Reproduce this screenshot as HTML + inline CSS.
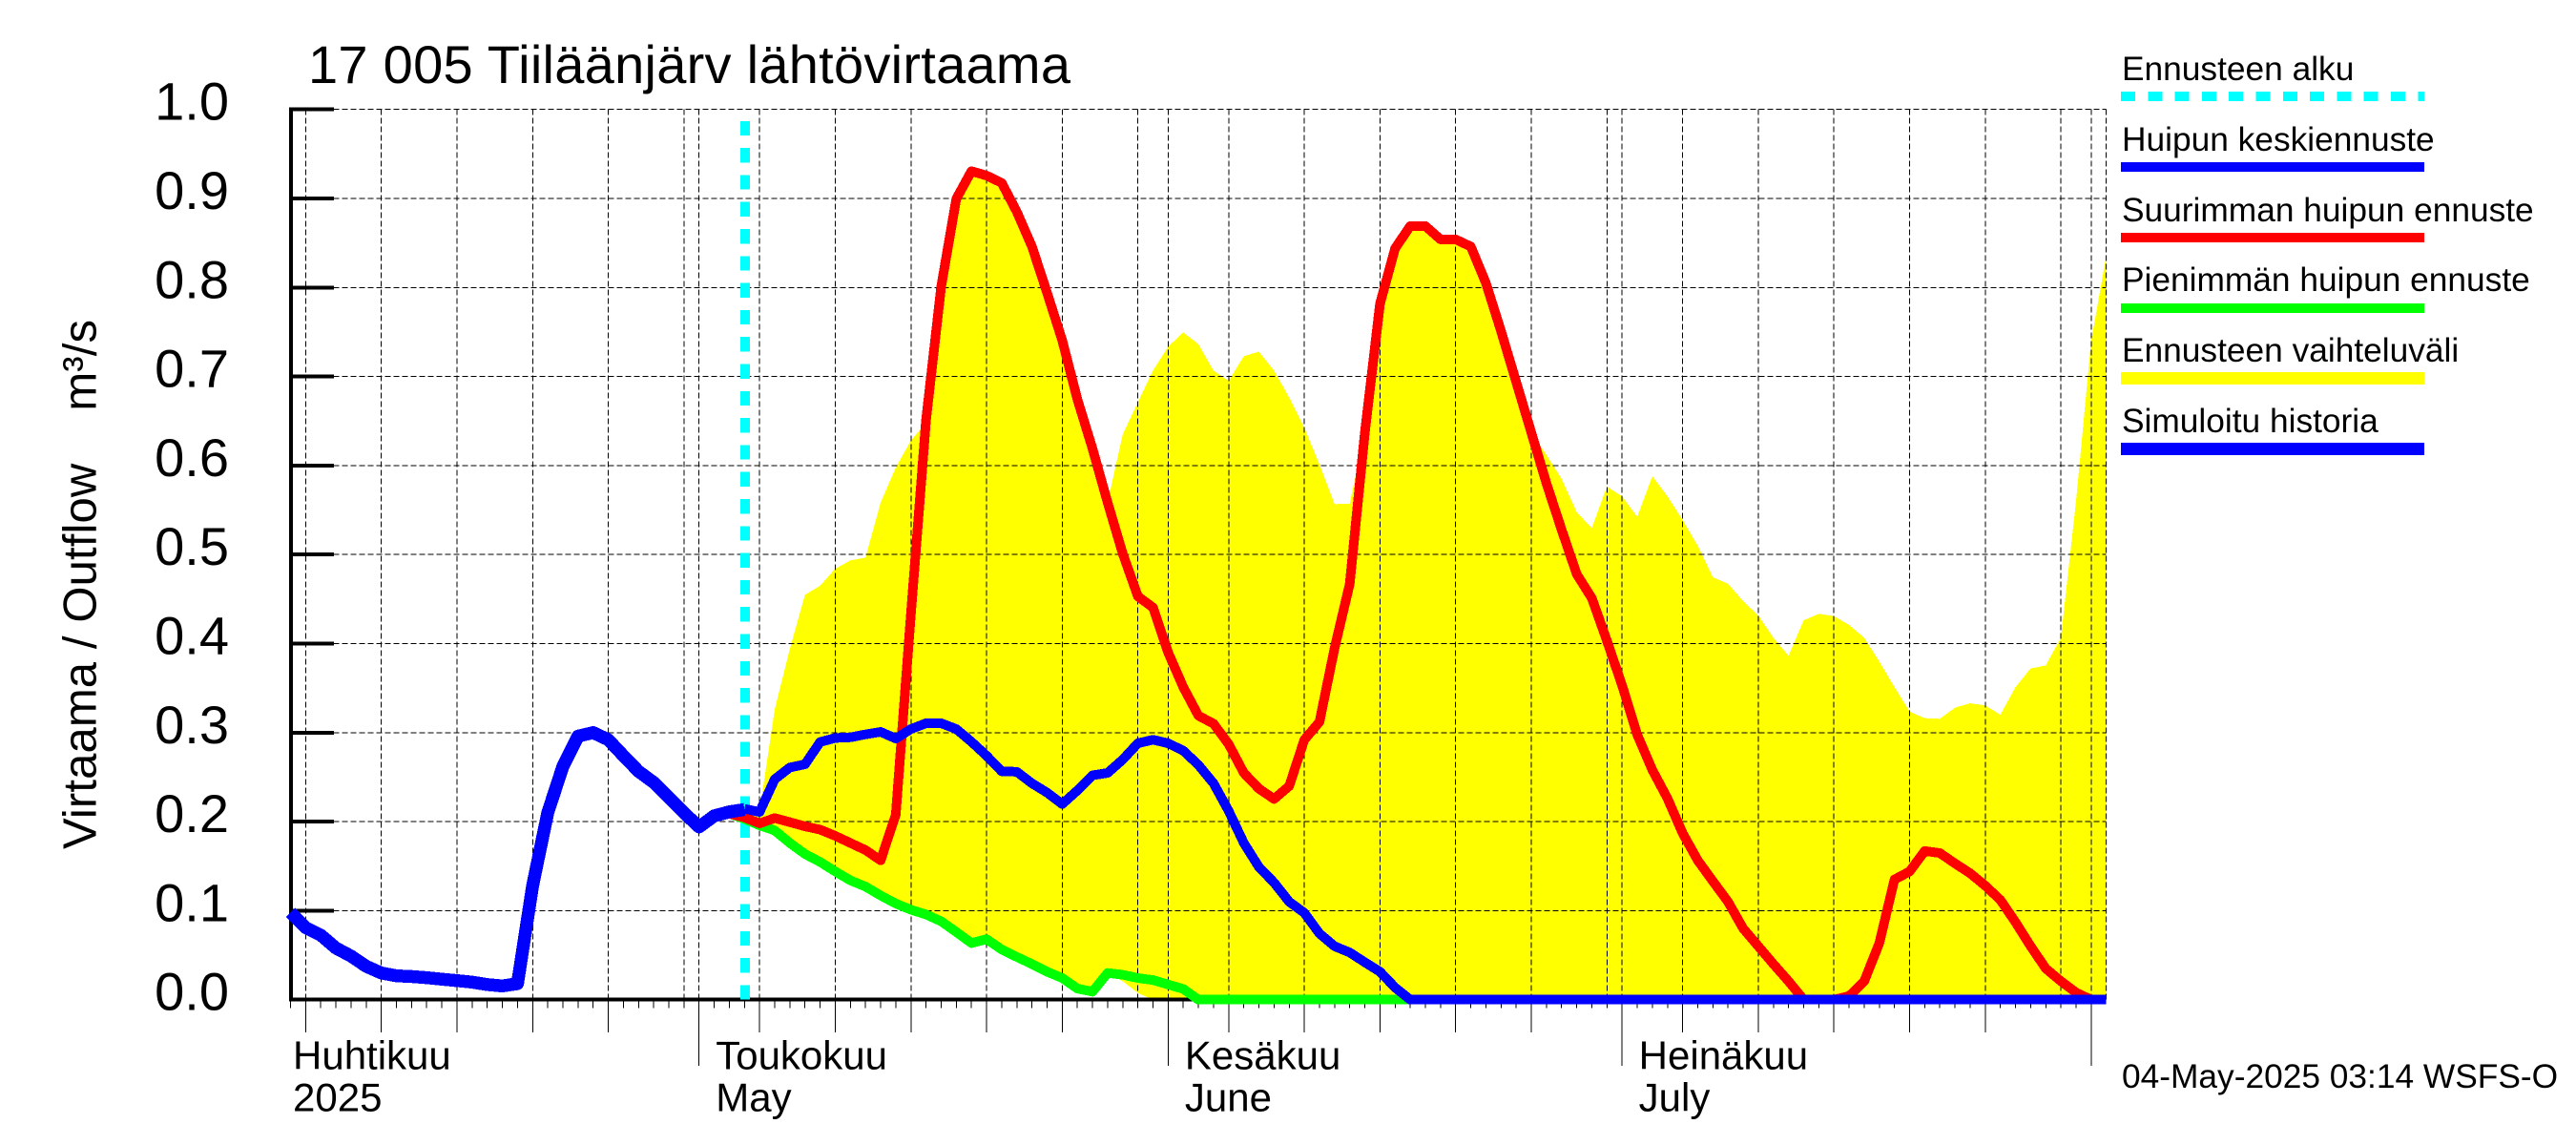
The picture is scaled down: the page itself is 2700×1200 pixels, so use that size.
<!DOCTYPE html>
<html lang="fi">
<head>
<meta charset="utf-8">
<title>17 005 Tiiläänjärv lähtövirtaama</title>
<style>
  html, body { margin: 0; padding: 0; background: #fff; }
  svg { display: block; font-family: "Liberation Sans", Arial, sans-serif; }
  text { fill: #000; }
</style>
</head>
<body>
<svg id="chart" xmlns="http://www.w3.org/2000/svg" width="2700" height="1200" viewBox="0 0 2700 1200" shape-rendering="crispEdges">
  <rect x="0" y="0" width="2700" height="1200" fill="#ffffff"/>
  <text x="323" y="87" font-size="56" textLength="799" lengthAdjust="spacing">17 005 Tiiläänjärv lähtövirtaama</text>
  <text transform="translate(100.5,890) rotate(-90)" font-size="49" textLength="555" lengthAdjust="spacing" xml:space="preserve">Virtaama / Outflow    m³/s</text>
  <g id="range-layer"></g>
  <g id="grid-layer"></g>
  <g id="axis-layer"></g>
  <g id="series-layer"></g>

  <g>
    <g>
      <text x="2224" y="84" font-size="35.3">Ennusteen alku</text>
      <line x1="2223" y1="101" x2="2541" y2="101" stroke="#00ffff" stroke-width="10" stroke-dasharray="15 13.3"/>
    </g>
    <g>
      <text x="2224" y="158" font-size="35.3">Huipun keskiennuste</text>
      <line x1="2223" y1="175" x2="2541" y2="175" stroke="#0000ff" stroke-width="10"/>
    </g>
    <g>
      <text x="2224" y="232" font-size="35.3">Suurimman huipun ennuste</text>
      <line x1="2223" y1="249" x2="2541" y2="249" stroke="#ff0000" stroke-width="10"/>
    </g>
    <g>
      <text x="2224" y="305" font-size="35.3">Pienimmän huipun ennuste</text>
      <line x1="2223" y1="323" x2="2541" y2="323" stroke="#00ff00" stroke-width="10"/>
    </g>
    <g>
      <text x="2224" y="379" font-size="35.3">Ennusteen vaihteluväli</text>
      <line x1="2223" y1="396.5" x2="2541" y2="396.5" stroke="#ffff00" stroke-width="13"/>
    </g>
    <g>
      <text x="2224" y="453" font-size="35.3">Simuloitu historia</text>
      <line x1="2223" y1="470.5" x2="2541" y2="470.5" stroke="#0000ff" stroke-width="13"/>
    </g>
  </g>
  <text x="2224" y="1140" font-size="35.3">04-May-2025 03:14 WSFS-O</text>
</svg>

<script>
// Tick labels
const yTickValues = [0.0, 0.1, 0.2, 0.3, 0.4, 0.5, 0.6, 0.7, 0.8, 0.9, 1.0];
const yTickLabels = ['0.0', '0.1', '0.2', '0.3', '0.4', '0.5', '0.6', '0.7', '0.8', '0.9', '1.0'];
const monthDays = [0, 27, 58, 88];
const monthLabelsFi = ['Huhtikuu', 'Toukokuu', 'Kesäkuu', 'Heinäkuu'];
const monthLabelsEn = ['2025', 'May', 'June', 'July'];
// Day numbers count from 4 April 2025 = 0, last day is 2 August = 120
const gridDays = [1, 6, 11, 16, 21, 26, 27, 31, 36, 41, 46, 51, 56, 58, 62, 67, 72, 77, 82, 87, 88, 92, 97, 102, 107, 112, 117, 119, 120];
const majorTickDays = [1, 6, 11, 16, 21, 31, 36, 41, 46, 51, 62, 67, 72, 77, 82, 92, 97, 102, 107, 112];
const monthTickDays = [27, 58, 88, 119];
const lastDay = 120;
const forecastStartDay = 30;

// Series: daily values in m3/s
const historyStart = 0;
const historyFlow = [
  .098, .081, .0725, .058, .049, .0375, .030, .0268, .026, .0247,
  .023, .0214, .0197, .017, .0154, .018, .128, .21, .262, .296,
  .30, .292, .274, .2565, .244, .227, .21, .194, .2065, .211,
  .2136
];
const meanPeakStart = 30;
const meanPeak = [
  .2144, .2108, .2476, .2608, .2644, .2894, .294, .2947, .298, .3008,
  .2933, .304, .3105, .3105, .304, .2897, .274, .2565, .256, .243,
  .2326, .2197, .235, .252, .2547, .2697, .288, .292, .288, .2797,
  .2637, .243, .212, .176, .149, .1315, .11, .0975, .0743, .06,
  .053, .042, .0314, .0136, 0,
  0, 0, 0, 0, 0, 0, 0, 0, 0, 0,
  0, 0, 0, 0, 0, 0, 0, 0, 0, 0,
  0, 0, 0, 0, 0, 0, 0, 0, 0, 0,
  0, 0, 0, 0, 0, 0, 0, 0, 0, 0,
  0, 0, 0, 0, 0, 0
];
const maxPeakStart = 29;
const maxPeak = [
  .209, .2047, .198, .204, .1994, .1947, .191, .184, .176, .168,
  .1565, .208, .4334, .651, .801, .8996, .9307, .9257, .9175, .885,
  .846, .794, .7406, .6745, .619, .5584, .501, .453, .4405, .39,
  .351, .319, .31, .287, .2547, .237, .2254, .24, .292, .312,
  .395, .467, .637, .7817, .844, .869, .869, .854, .854, .846,
  .805, .751, .694, .637, .58, .528, .478, .451, .403, .353,
  .2976, .258, .226, .187, .1565, .133, .11, .08, .06, .04,
  .0207, 0, 0, 0, .004, .0207, .0636, .135, .144, .167,
  .1647, .153, .142, .128, .112, .087, .06, .035, .0207, .008,
  0, 0
];
const minPeakStart = 29;
const minPeak = [
  .209, .203, .1958, .19, .176, .1636, .1547, .144, .134, .127,
  .117, .108, .101, .0957, .088, .076, .0636, .068, .0564, .048,
  .04, .0314, .0243, .0125, .009, .03, .028, .0243, .022, .017,
  .012, 0,
  0, 0, 0, 0, 0, 0, 0, 0, 0, 0,
  0, 0, 0, 0, 0, 0, 0, 0, 0, 0,
  0, 0, 0, 0, 0, 0, 0, 0, 0, 0,
  0, 0, 0, 0, 0, 0, 0, 0, 0, 0,
  0, 0, 0, 0, 0, 0, 0, 0, 0, 0,
  0, 0, 0, 0, 0, 0, 0, 0, 0, 0
];
const rangeStart = 30;
const rangeUpper = [
  .205, .2119, .326, .394, .4548, .465, .484, .4934, .4966, .5584,
  .5977, .628, .648, .801, .8996, .9307, .9257, .9175, .885, .846,
  .794, .7406, .6745, .619, .5584, .635, .671, .7067, .7335, .7496,
  .7363, .7067, .695, .7228, .728, .7067, .6763, .6424, .6013, .5566,
  .5573, .637, .7817, .844, .869, .869, .854, .854, .846, .805,
  .751, .694, .637, .612, .5852, .5477, .5298, .5763, .5655, .5423,
  .588, .5655, .5388, .51, .4745, .4673, .4477, .4316, .4066, .3862,
  .4262, .4334, .4309, .4209, .4066, .3798, .3512, .3237, .3162, .3155,
  .328, .333, .3305, .32, .3512, .372, .3755, .4066, .56, .74,
  .8357
];
const rangeLower = [
  .203, .1958, .19, .176, .1636, .1547, .144, .134, .127, .117,
  .108, .101, .0957, .088, .076, .0636, .068, .0564, .048, .04,
  .0314, .0243, .0125, .009, .03, .0207, .0075, 0,
  0, 0, 0, 0, 0, 0, 0, 0, 0, 0,
  0, 0, 0, 0, 0, 0, 0, 0, 0, 0,
  0, 0, 0, 0, 0, 0, 0, 0, 0, 0,
  0, 0, 0, 0, 0, 0, 0, 0, 0, 0,
  0, 0, 0, 0, 0, 0, 0, 0, 0, 0,
  0, 0, 0, 0, 0, 0, 0, 0, 0, 0,
  0, 0, 0
];

const SVG_NS = 'http://www.w3.org/2000/svg';
function xScale(day) { return 304.5 + 15.86 * day; }
function yScale(value) { return 1047.7 - 933 * value; }

function make(parent, tag, props) {
  const el = document.createElementNS(SVG_NS, tag);
  for (const key in props) el.setAttribute(key, props[key]);
  parent.appendChild(el);
  return el;
}
function linePoints(start, values) {
  return values.map(function (v, i) {
    return xScale(start + i).toFixed(2) + ',' + yScale(v).toFixed(2);
  }).join(' ');
}

const rangeLayer = document.getElementById('range-layer');
const gridLayer = document.getElementById('grid-layer');
const axisLayer = document.getElementById('axis-layer');
const seriesLayer = document.getElementById('series-layer');

// Forecast range band
const upperPts = linePoints(rangeStart, rangeUpper);
const lowerPts = rangeLower.map(function (v, i) {
  return xScale(rangeStart + i).toFixed(2) + ',' + yScale(v).toFixed(2);
}).reverse().join(' ');
const band = make(rangeLayer, 'polygon', { points: upperPts + ' ' + lowerPts, fill: '#ffff00' });



// Grid
gridDays.forEach(function (day) {
  const g = make(gridLayer, 'line', {
    x1: xScale(day), x2: xScale(day), y1: yScale(1), y2: yScale(0),
    stroke: '#000', 'stroke-width': 1, 'stroke-dasharray': '6 3'
  });
  
  
});
yTickValues.forEach(function (value) {
  const g = make(gridLayer, 'line', {
    x1: xScale(0) + 45, x2: xScale(lastDay), y1: yScale(value), y2: yScale(value),
    stroke: '#000', 'stroke-width': 1, 'stroke-dasharray': '6 3'
  });
  
  
});

// Axes
const yAxisLine = make(axisLayer, 'line', { x1: 305, x2: 305, y1: yScale(1) - 2, y2: yScale(0) + 2, stroke: '#000', 'stroke-width': 4 });


const xAxisLine = make(axisLayer, 'line', { x1: 303, x2: xScale(lastDay), y1: yScale(0), y2: yScale(0), stroke: '#000', 'stroke-width': 4 });



yTickValues.forEach(function (value, i) {
  const t = make(axisLayer, 'line', { x1: 305, x2: 350, y1: yScale(value), y2: yScale(value), stroke: '#000', 'stroke-width': 4 });
  
  
  const lab = make(axisLayer, 'text', { x: 240, y: yScale(value) + 11, 'font-size': 56, 'text-anchor': 'end' });
  lab.textContent = yTickLabels[i];
  
  
});

for (let day = 0; day < lastDay; day++) {
  const t = make(axisLayer, 'line', { x1: xScale(day), x2: xScale(day), y1: yScale(0), y2: 1056.5, stroke: '#000', 'stroke-width': 1 });
  
  
}
majorTickDays.forEach(function (day) {
  const t = make(axisLayer, 'line', { x1: xScale(day), x2: xScale(day), y1: yScale(0), y2: 1082, stroke: '#000', 'stroke-width': 1 });
  
  
});
monthTickDays.forEach(function (day) {
  const t = make(axisLayer, 'line', { x1: xScale(day), x2: xScale(day), y1: yScale(0), y2: 1117, stroke: '#000', 'stroke-width': 1 });
  
  
});
monthDays.forEach(function (day, i) {
  const labelX = xScale(day) + (i === 0 ? 2.5 : 17.5);
  const fi = make(axisLayer, 'text', { x: labelX, y: 1120.5, 'font-size': 42 });
  fi.textContent = monthLabelsFi[i];
  
  
  const en = make(axisLayer, 'text', { x: labelX, y: 1164.5, 'font-size': 42 });
  en.textContent = monthLabelsEn[i];
  
  
});

// Forecast start marker
const startLine = make(seriesLayer, 'line', {
  x1: xScale(forecastStartDay) + 0.7, x2: xScale(forecastStartDay) + 0.7, y1: yScale(0), y2: yScale(1),
  stroke: '#00ffff', 'stroke-width': 10, 'stroke-dasharray': '15.3 13'
});



// Series lines
function drawLine(start, values, color, width) {
  return make(seriesLayer, 'polyline', {
    points: linePoints(start, values), fill: 'none', stroke: color,
    'stroke-width': width, 'stroke-linejoin': 'round', 'stroke-linecap': 'butt'
  });
}
const minLine = drawLine(minPeakStart, minPeak, '#00ff00', 10);


const maxLine = drawLine(maxPeakStart, maxPeak, '#ff0000', 10);


const histLine = drawLine(historyStart, historyFlow, '#0000ff', 13.5);


const meanLine = drawLine(meanPeakStart, meanPeak, '#0000ff', 10);


</script>
</body>
</html>
